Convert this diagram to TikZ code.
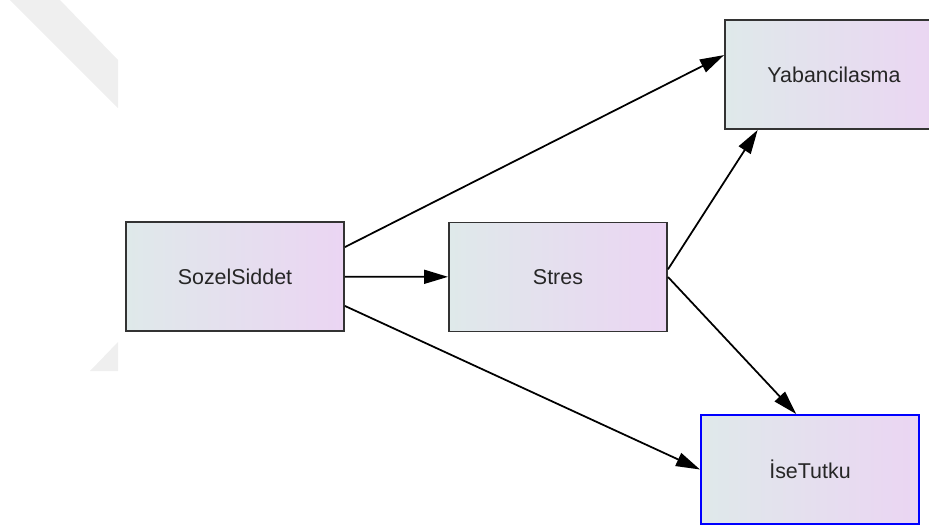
\documentclass[tikz,border=0pt]{standalone}
\usepackage{fontspec}
\setmainfont{Liberation Sans}
\usetikzlibrary{arrows.meta}

\definecolor{boxleft}{HTML}{DFE9EA}
\definecolor{boxright}{HTML}{EBD5F3}
\definecolor{boxline}{HTML}{333333}
\definecolor{wmark}{HTML}{EFEFEF}

\tikzset{
  construct/.style={draw=boxline,line width=1.4pt,left color=boxleft,right color=boxright,
    minimum width=6.55cm,minimum height=3.28cm,inner sep=0pt,
    font=\fontsize{18.3}{20}\selectfont,text=black!85},
  path/.style={->,line width=1.5pt}
}

\begin{document}
\begin{tikzpicture}[x=0.03cm,y=-0.03cm,>={Triangle[length=7.2mm,width=4.2mm]}]
      \useasboundingbox (0,0) rectangle (929,528);
      % faint watermark pieces
      \fill[wmark] (10,0) -- (60,0) -- (118,60) -- (118,108) -- cycle;
      \fill[wmark] (118,342) -- (90,371) -- (118,371) -- cycle;
      \node[construct] (SozelSiddet) at (235,276.5) {SozelSiddet};
      \node[construct] (Stres) at (558,277) {Stres};
      \node[construct] (Yabancilasma) at (834,74.5) {Yabancilasma};
      \node[construct,draw=blue] (IseTutku) at (810,469.5) {İseTutku};
      \draw[path] (SozelSiddet.15) -- (Yabancilasma.170);
      \draw[path] (SozelSiddet) -- (Stres);
      \draw[path] (SozelSiddet.-15) -- (IseTutku.west);
      \draw[path] (Stres.4) -- (Yabancilasma.216);
      \draw[path] (Stres.east) -- (IseTutku.104);
    \end{tikzpicture}
\end{document}
